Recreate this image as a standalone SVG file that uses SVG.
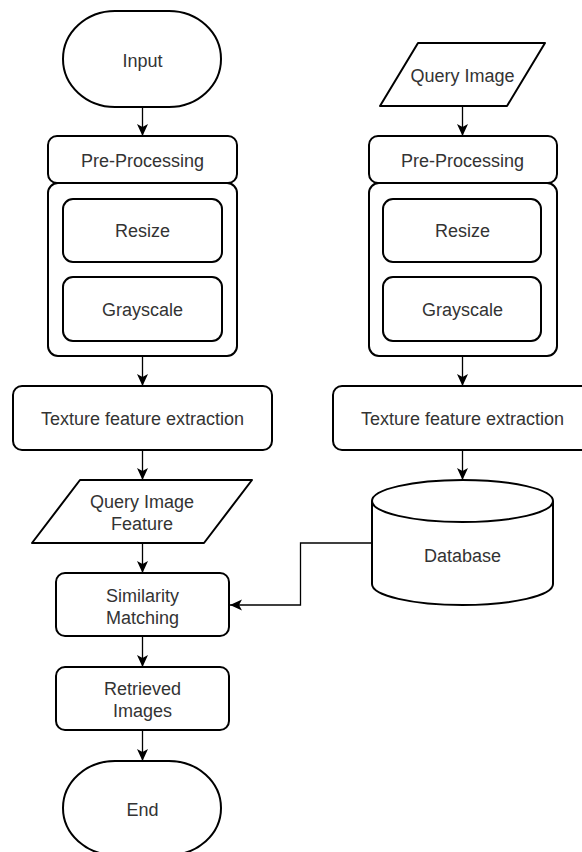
<svg xmlns="http://www.w3.org/2000/svg" width="582" height="852" viewBox="0 0 582 852">
<style>
.s{fill:#fff;stroke:#000;stroke-width:2;stroke-linejoin:round}
.t{font-family:"Liberation Sans",Arial,Helvetica,sans-serif;font-size:18px;fill:#333;text-anchor:middle}
.c{fill:none;stroke:#000;stroke-width:1.3}
</style>
<defs>
<marker id="ah" viewBox="0 0 12 12" refX="12" refY="6" markerWidth="12" markerHeight="12" markerUnits="userSpaceOnUse" orient="auto">
<path d="M0,0.5 L12,6 L0,11.5 L3,6 Z" fill="#000"/>
</marker>
</defs>
<rect width="582" height="852" fill="#fff"/>

<g id="connectors">
<line class="c" x1="142.5" y1="107" x2="142.5" y2="136" marker-end="url(#ah)"/>
<line class="c" x1="142.5" y1="356" x2="142.5" y2="386" marker-end="url(#ah)"/>
<line class="c" x1="142.5" y1="450" x2="142.5" y2="480" marker-end="url(#ah)"/>
<line class="c" x1="142.5" y1="543" x2="142.5" y2="573" marker-end="url(#ah)"/>
<line class="c" x1="142.5" y1="636" x2="142.5" y2="667" marker-end="url(#ah)"/>
<line class="c" x1="142.5" y1="730" x2="142.5" y2="761" marker-end="url(#ah)"/>
<line class="c" x1="462.5" y1="106" x2="462.5" y2="136" marker-end="url(#ah)"/>
<line class="c" x1="462.5" y1="356" x2="462.5" y2="386" marker-end="url(#ah)"/>
<line class="c" x1="462.5" y1="450" x2="462.5" y2="480" marker-end="url(#ah)"/>
<polyline class="c" points="372,543 300.5,543 300.5,605 230,605" marker-end="url(#ah)"/>
</g>

<g id="input">
<rect class="s" x="63" y="11" width="158" height="96" rx="52" ry="48"/>
<text class="t" x="142.5" y="66.5">Input</text>
</g>

<g id="preprocessing-left-container">
<rect class="s" x="48" y="183" width="189" height="173" rx="10" ry="10"/>
</g>
<g id="preprocessing-left">
<rect class="s" x="48" y="136" width="189" height="47" rx="9" ry="9"/>
<text class="t" x="142.5" y="167">Pre-Processing</text>
</g>
<g id="resize-left">
<rect class="s" x="63" y="199" width="159" height="63" rx="10" ry="10"/>
<text class="t" x="142.5" y="237">Resize</text>
</g>
<g id="grayscale-left">
<rect class="s" x="63" y="277" width="159" height="64" rx="10" ry="10"/>
<text class="t" x="142.5" y="316">Grayscale</text>
</g>
<g id="texture-left">
<rect class="s" x="13" y="386" width="259" height="64" rx="9" ry="9"/>
<text class="t" x="142.5" y="425">Texture feature extraction</text>
</g>
<g id="query-image-feature">
<polygon class="s" points="80,480 252,480 204,543 32,543"/>
<text class="t" x="142" y="508">Query Image</text>
<text class="t" x="142" y="530">Feature</text>
</g>
<g id="similarity-matching">
<rect class="s" x="56" y="573" width="173" height="63" rx="9" ry="9"/>
<text class="t" x="142.5" y="602">Similarity</text>
<text class="t" x="142.5" y="624">Matching</text>
</g>
<g id="retrieved-images">
<rect class="s" x="56" y="667" width="173" height="63" rx="9" ry="9"/>
<text class="t" x="142.5" y="695">Retrieved</text>
<text class="t" x="142.5" y="717">Images</text>
</g>
<g id="end">
<rect class="s" x="63" y="761" width="158" height="94" rx="52" ry="47"/>
<text class="t" x="142.5" y="816">End</text>
</g>

<g id="query-image">
<polygon class="s" points="418,43 545,43 507,106 380,106"/>
<text class="t" x="462.5" y="82">Query Image</text>
</g>
<g id="preprocessing-right-container">
<rect class="s" x="369" y="183" width="188" height="173" rx="10" ry="10"/>
</g>
<g id="preprocessing-right">
<rect class="s" x="369" y="136" width="188" height="47" rx="9" ry="9"/>
<text class="t" x="462.5" y="167">Pre-Processing</text>
</g>
<g id="resize-right">
<rect class="s" x="383" y="199" width="158" height="63" rx="10" ry="10"/>
<text class="t" x="462.5" y="237">Resize</text>
</g>
<g id="grayscale-right">
<rect class="s" x="383" y="277" width="158" height="64" rx="10" ry="10"/>
<text class="t" x="462.5" y="316">Grayscale</text>
</g>
<g id="texture-right">
<rect class="s" x="333" y="386" width="259" height="64" rx="9" ry="9"/>
<text class="t" x="462.5" y="425">Texture feature extraction</text>
</g>
<g id="database">
<path class="s" d="M372,501 A90.5,21 0 0,1 553,501 L553,584 A90.5,21 0 0,1 372,584 Z"/>
<path class="s" style="fill:none" d="M372,501 A90.5,21 0 0,0 553,501"/>
<text class="t" x="462.5" y="562">Database</text>
</g>
</svg>
